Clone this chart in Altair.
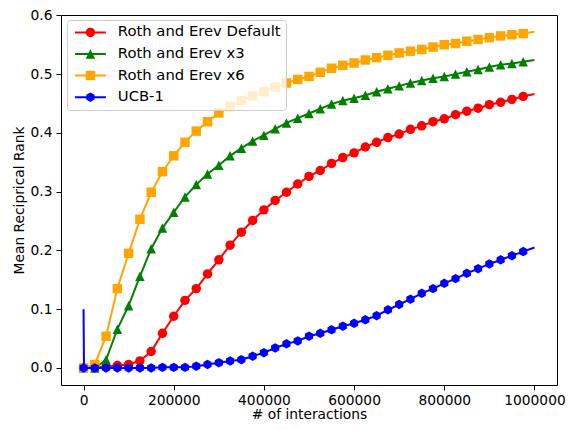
import math
import altair as alt
import pandas as pd

series_names = ["Roth and Erev Default", "Roth and Erev x3", "Roth and Erev x6", "UCB-1"]
series_colors = ["#ff0000", "#008000", "#ffa500", "#0000ff"]

# marker positions (every 25000 interactions)
x_marks = [0, 25000, 50000, 75000, 100000, 125000, 150000, 175000, 200000, 225000,
           250000, 275000, 300000, 325000, 350000, 375000, 400000, 425000, 450000, 475000,
           500000, 525000, 550000, 575000, 600000, 625000, 650000, 675000, 700000, 725000,
           750000, 775000, 800000, 825000, 850000, 875000, 900000, 925000, 950000, 975000]
x_end = 1000000

default_y = [0.000, 0.001, 0.002, 0.004, 0.006, 0.012, 0.028, 0.059, 0.088, 0.115,
             0.135, 0.160, 0.184, 0.209, 0.231, 0.251, 0.269, 0.285, 0.299, 0.313,
             0.326, 0.336, 0.348, 0.358, 0.366, 0.376, 0.384, 0.392, 0.398, 0.406,
             0.412, 0.419, 0.424, 0.431, 0.437, 0.442, 0.448, 0.452, 0.457, 0.462]
x3_y = [0.000, 0.000, 0.014, 0.066, 0.106, 0.156, 0.203, 0.238, 0.265, 0.291,
        0.312, 0.330, 0.345, 0.361, 0.374, 0.386, 0.396, 0.407, 0.417, 0.425,
        0.433, 0.441, 0.449, 0.455, 0.459, 0.464, 0.470, 0.475, 0.480, 0.485,
        0.489, 0.493, 0.496, 0.500, 0.504, 0.508, 0.512, 0.516, 0.518, 0.521]
x6_y = [0.000, 0.006, 0.054, 0.135, 0.195, 0.253, 0.299, 0.334, 0.361, 0.384,
        0.403, 0.419, 0.434, 0.445, 0.455, 0.463, 0.470, 0.478, 0.485, 0.491,
        0.496, 0.503, 0.510, 0.515, 0.519, 0.524, 0.528, 0.532, 0.536, 0.539,
        0.542, 0.546, 0.550, 0.552, 0.556, 0.559, 0.562, 0.565, 0.567, 0.569]
ucb_y = [0.000, 0.000, 0.000, 0.000, 0.000, 0.000, 0.000, 0.001, 0.001, 0.001,
         0.003, 0.006, 0.009, 0.012, 0.014, 0.020, 0.026, 0.034, 0.041, 0.046,
         0.054, 0.059, 0.065, 0.071, 0.076, 0.082, 0.089, 0.099, 0.108, 0.117,
         0.127, 0.135, 0.144, 0.152, 0.161, 0.169, 0.177, 0.184, 0.191, 0.198]
end_y = [0.466, 0.524, 0.572, 0.205]

# early spike of the UCB-1 line near x = 0
ucb_spike_x = [0, 1000]
ucb_spike_y = [0.100, 0.000]

x_ticks = [0, 200000, 400000, 600000, 800000, 1000000]
y_ticks = [0.0, 0.1, 0.2, 0.3, 0.4, 0.5, 0.6]

all_y = [default_y, x3_y, x6_y, ucb_y]

point_rows = []
line_rows = []
for name, ys, ye in zip(series_names, all_y, end_y):
    for xv, yv in zip(x_marks, ys):
        point_rows.append({"series": name, "x": xv, "y": yv})
    if name == "UCB-1":
        lx = ucb_spike_x + x_marks[1:] + [x_end]
        ly = ucb_spike_y + ys[1:] + [ye]
    else:
        lx = x_marks + [x_end]
        ly = ys + [ye]
    for xv, yv in zip(lx, ly):
        line_rows.append({"series": name, "x": xv, "y": yv})

points_df = pd.DataFrame(point_rows)
lines_df = pd.DataFrame(line_rows)

FONT = "DejaVu Sans"
FS = 13.8
LFS = 14.8

tri = "M0,-1L1,1L-1,1Z"
hexa = "M0,-1L0.866,-0.5L0.866,0.5L0,1L-0.866,0.5L-0.866,-0.5Z"
mark_shapes = ["circle", tri, "square", hexa]


def polygon_path(n, r=1.0):
    pts = []
    for k in range(n):
        a = 2 * math.pi * k / n
        pts.append(f"{r * math.cos(a):.3f},{r * math.sin(a):.3f}")
    return "M" + "L".join(pts) + "Z"


# legend glyph: a short thick line (filled thin rectangle) through the marker
seg = "M-3.26,-0.21L3.26,-0.21L3.26,0.21L-3.26,0.21Z"
legend_shapes = [
    seg + polygon_path(24),
    seg + tri,
    seg + "M-1,-1L1,-1L1,1L-1,1Z",
    seg + hexa,
]

x_enc = alt.X("x:Q", scale=alt.Scale(domain=[-50000, 1050000], nice=False, zero=False),
              axis=alt.Axis(values=x_ticks, format="d", title="# of interactions", grid=False,
                            domain=False, tickColor="black", tickSize=5, labelPadding=3,
                            labelFontSize=FS, titleFontSize=FS, titleFontWeight="normal",
                            titlePadding=1, labelColor="black", titleColor="black",
                            labelFont=FONT, titleFont=FONT, labelFlush=False))
y_enc = alt.Y("y:Q", scale=alt.Scale(domain=[-0.029, 0.6006], nice=False, zero=False),
              axis=alt.Axis(values=y_ticks, format=".1f", title="Mean Reciprical Rank", grid=False,
                            domain=False, tickColor="black", tickSize=5, labelPadding=4,
                            labelFontSize=FS, titleFontSize=FS, titleFontWeight="normal",
                            titlePadding=4, labelColor="black", titleColor="black",
                            labelFont=FONT, titleFont=FONT, labelFlush=False))

layers = []
for name, col, shp in zip(series_names, series_colors, mark_shapes):
    ln = alt.Chart(lines_df).transform_filter(alt.datum.series == name).mark_line(
        strokeWidth=2, color=col
    ).encode(x=x_enc, y=y_enc)
    pt = alt.Chart(points_df).transform_filter(alt.datum.series == name).mark_point(
        filled=True, opacity=1, size=90, shape=shp, color=col
    ).encode(x=x_enc, y=y_enc)
    layers += [ln, pt]

leg = alt.Legend(title=None, orient="none", legendX=6, legendY=5, direction="vertical",
                 symbolSize=90, symbolStrokeWidth=0, symbolOpacity=1, symbolOffset=11,
                 labelOffset=20, labelFontSize=LFS, labelFont=FONT, labelColor="black",
                 rowPadding=5.6, padding=5, strokeColor="#cccccc",
                 fillColor="rgba(255,255,255,0.8)", cornerRadius=3, labelLimit=400)

# legend-only layer: draws no marks (all rows filtered out), its scales have explicit domains
legend_layer = alt.Chart(points_df).transform_filter(alt.datum.x < -1e9).mark_point(filled=True).encode(
    x=x_enc, y=y_enc,
    color=alt.Color("series:N", scale=alt.Scale(domain=series_names, range=series_colors), legend=leg),
    shape=alt.Shape("series:N", scale=alt.Scale(domain=series_names, range=legend_shapes), legend=leg),
)
layers.append(legend_layer)

chart = alt.layer(*layers).properties(
    width=496, height=370,
    autosize=alt.AutoSizeParams(type="none"),
    padding={"left": 53, "top": 7, "right": 8, "bottom": 37},
).configure(font=FONT).configure_legend(
    labelFont=FONT, labelFontSize=LFS, labelColor="black"
).configure_view(stroke="black", strokeWidth=1)

chart.save("out.html", embed_options={"renderer": "svg", "actions": False})
